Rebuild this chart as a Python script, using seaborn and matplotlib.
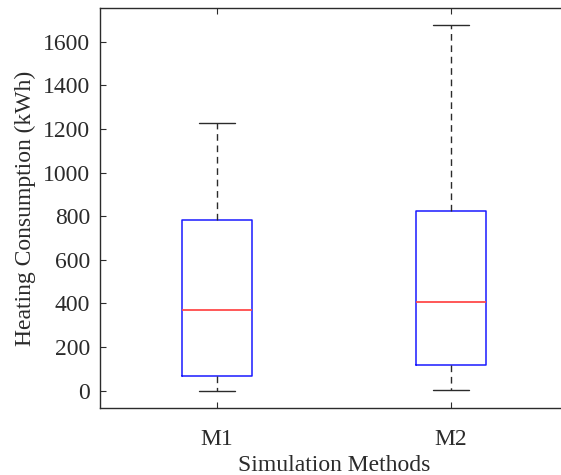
import matplotlib
matplotlib.use("Agg")
import matplotlib.pyplot as plt
import seaborn as sns
import pandas as pd

# Box summary values (kWh): low whisker, Q1, median, Q3, high whisker
methods = ["M1", "M2"]
m1_values = [0, 67, 370, 782, 1228]
m2_values = [3, 118, 405, 824, 1675]

df = pd.DataFrame({
    "method": ["M1"] * len(m1_values) + ["M2"] * len(m2_values),
    "value": m1_values + m2_values,
})

sns.set_style("ticks")
plt.rcParams["font.family"] = ["Liberation Serif", "DejaVu Serif"]

ink = "#2b2b2b"

fig = plt.figure(figsize=(5.61, 4.75), dpi=100)
ax = fig.add_axes([100 / 561, 67 / 475, 468 / 561, 400 / 475])

sns.boxplot(
    data=df, x="method", y="value", order=methods,
    width=0.3, fill=False, whis=1.5, showfliers=False, ax=ax,
    boxprops=dict(color="#1a1aff", linewidth=1.1),
    medianprops=dict(color="#ff4a4a", linewidth=1.3),
    whiskerprops=dict(color=ink, linewidth=1.0, linestyle=(0, (4.8, 3.4))),
    capprops=dict(color=ink, linewidth=1.0),
)

ax.set_xlim(-0.5, 1.5)
ax.set_ylim(-79, 1754)
ax.set_yticks(range(0, 1601, 200))

ax.set_xlabel("Simulation Methods", fontsize=17, color=ink, labelpad=4)
ax.set_ylabel("Heating Consumption (kWh)", fontsize=17, color=ink, labelpad=5)

ax.tick_params(axis="both", direction="in", length=4, width=0.8, colors=ink,
               labelsize=17)
ax.tick_params(axis="x", top=True, pad=15)
ax.tick_params(axis="y", right=False, pad=7)

for side in ["left", "bottom", "top"]:
    ax.spines[side].set_color(ink)
    ax.spines[side].set_linewidth(1.0)
    ax.spines[side].set_visible(True)
ax.spines["right"].set_visible(False)

fig.savefig("out.png", dpi=100, facecolor="white")
